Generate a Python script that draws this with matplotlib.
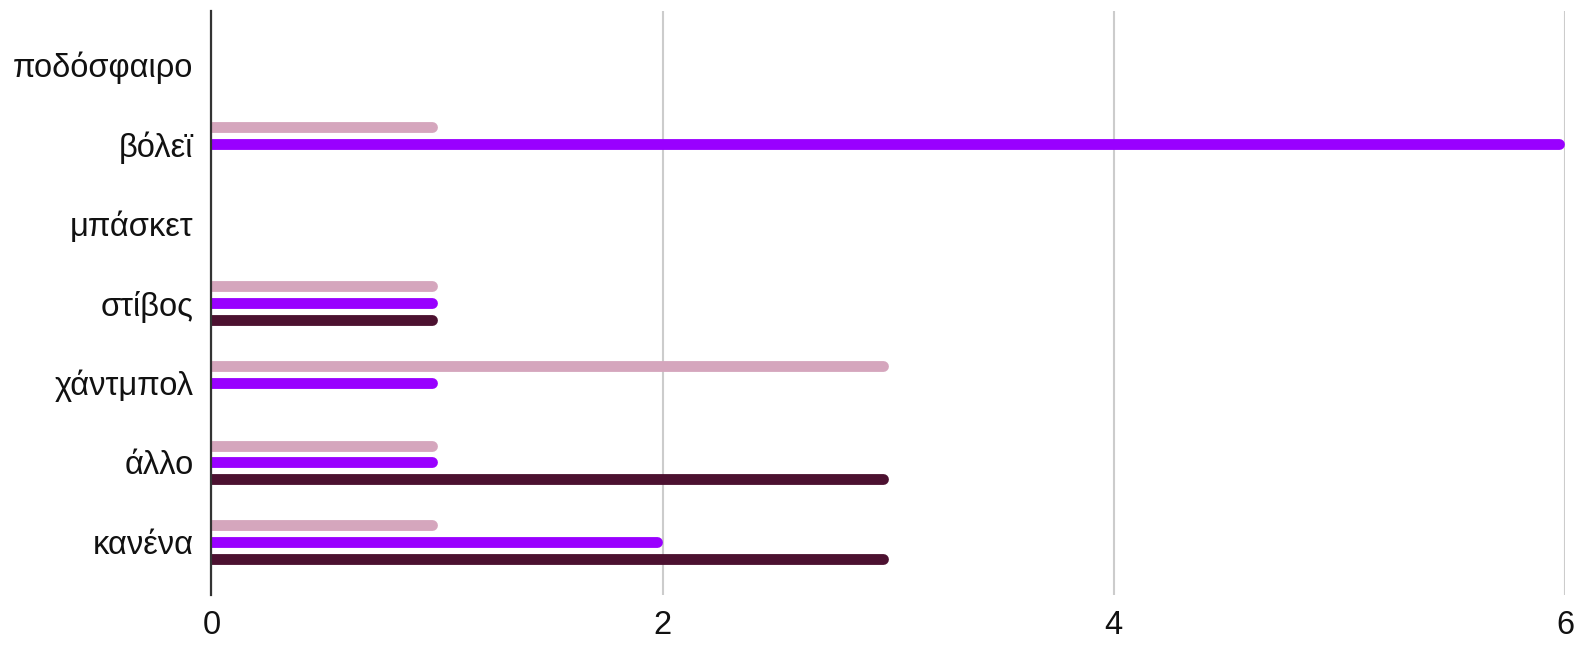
import matplotlib
matplotlib.use("Agg")
import matplotlib.pyplot as plt
import matplotlib.transforms as mtransforms

categories = ["ποδόσφαιρο", "βόλεϊ", "μπάσκετ", "στίβος", "χάντμπολ", "άλλο", "κανένα"]
series_pink = [0, 1, 0, 1, 3, 1, 1]
series_purple = [0, 6, 0, 1, 1, 1, 2]
series_dark = [0, 0, 0, 1, 0, 3, 3]
x_ticks = [0, 2, 4, 6]

colors = ["#d5a6bd", "#9900ff", "#4c1130"]
offsets = [-0.209, 0.0, 0.209]

plt.rcParams["font.family"] = ["Liberation Sans", "DejaVu Sans"]

fig = plt.figure(figsize=(15.78, 6.46), dpi=100)
ax = fig.add_axes([0.1340, 0.0789, 0.8577, 0.9040])

lw = 7.8  # points
r = lw / 2.0
shift = ax.transData + mtransforms.ScaledTranslation(-r / 72.0, 0, fig.dpi_scale_trans)

for vals, col, off in zip([series_pink, series_purple, series_dark], colors, offsets):
    for i, v in enumerate(vals):
        if v <= 0:
            continue
        ln, = ax.plot([0, v], [i + off, i + off], color=col, lw=lw,
                      solid_capstyle="round", transform=shift, zorder=3)
        ln.set_clip_on(True)

ax.set_xlim(0, 6)
ax.set_ylim(6.667, -0.667)
ax.set_yticks(range(len(categories)))
ax.set_yticklabels(categories, fontsize=23.5, color="#111111")
ax.set_xticks(x_ticks)
ax.set_xticklabels([str(t) for t in x_ticks], fontsize=23.5, color="#111111")
ax.tick_params(axis="y", length=0, pad=13)
ax.tick_params(axis="x", length=0, pad=11)

for s in ["top", "right", "bottom"]:
    ax.spines[s].set_visible(False)
ax.spines["left"].set_color("#333333")
ax.spines["left"].set_linewidth(1.6)
ax.spines["left"].set_zorder(4)

ax.grid(axis="x", color="#cccccc", linewidth=1.5)
ax.grid(axis="y", visible=False)
ax.set_axisbelow(True)

fig.savefig("out.png", dpi=100)
